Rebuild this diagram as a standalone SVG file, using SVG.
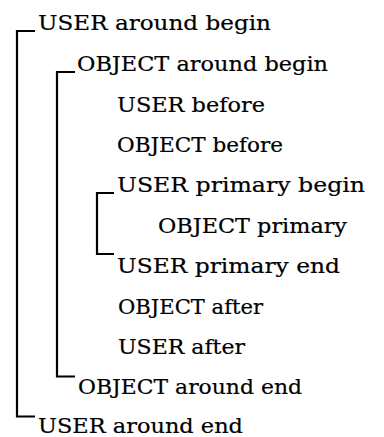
<svg xmlns="http://www.w3.org/2000/svg" width="384" height="437" viewBox="0 0 384 437">
<style>
text{font-family:"DejaVu Serif","Liberation Serif",serif;font-size:21px;fill:#000;stroke:#000;stroke-width:0.2}
.b{fill:none;stroke:#000;stroke-width:2.2}
</style>
<rect width="384" height="437" fill="#fff"/>
<g id="connectors">
<path class="b" d="M35,31H17V416.5H35"/>
<path class="b" d="M75,72H57V376.5H75"/>
<path class="b" d="M114,193H97V254H114"/>
</g>
<g id="n1"><text x="38" y="29.5" textLength="233" lengthAdjust="spacingAndGlyphs">USER around begin</text></g>
<g id="n2"><text x="77" y="70.5" textLength="251" lengthAdjust="spacingAndGlyphs">OBJECT around begin</text></g>
<g id="n3"><text x="117" y="111.5" textLength="148" lengthAdjust="spacingAndGlyphs">USER before</text></g>
<g id="n4"><text x="117" y="151.5" textLength="166" lengthAdjust="spacingAndGlyphs">OBJECT before</text></g>
<g id="n5"><text x="117" y="192" textLength="248" lengthAdjust="spacingAndGlyphs">USER primary begin</text></g>
<g id="n6"><text x="158" y="232.5" textLength="189" lengthAdjust="spacingAndGlyphs">OBJECT primary</text></g>
<g id="n7"><text x="117" y="273" textLength="223" lengthAdjust="spacingAndGlyphs">USER primary end</text></g>
<g id="n8"><text x="118" y="313.5" textLength="145" lengthAdjust="spacingAndGlyphs">OBJECT after</text></g>
<g id="n9"><text x="118" y="353.5" textLength="127" lengthAdjust="spacingAndGlyphs">USER after</text></g>
<g id="n10"><text x="78" y="394" textLength="224" lengthAdjust="spacingAndGlyphs">OBJECT around end</text></g>
<g id="n11"><text x="38" y="433" textLength="205" lengthAdjust="spacingAndGlyphs">USER around end</text></g>
</svg>
